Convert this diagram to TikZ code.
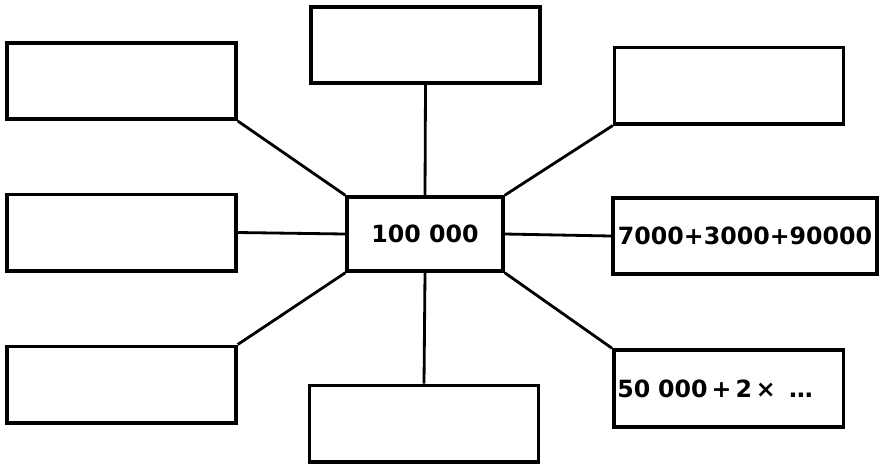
\documentclass[tikz,border=0pt]{standalone}
\usepackage{fontspec}
\setmainfont{DejaVu Sans}
\tikzset{
  box/.style={draw, line width=2pt, minimum width=4.58cm, minimum height=1.53cm},
  numbox/.style={box, font=\bfseries\fontsize{13.5}{16}\selectfont},
  spoke/.style={line width=1.6pt}
}
\begin{document}
\begin{tikzpicture}[x=0.02cm, y=-0.02cm]
    \useasboundingbox (0,0) rectangle (888,468);
    % centre
    \node[numbox, minimum width=3.12cm, minimum height=1.48cm] (c) at (425,234) {100 000};
    % outer boxes
    \node[box] (tl) at (121.5,81) {};
    \node[box] (tc) at (425.5,45) {};
    \node[box] (tr) at (729,85.5) {};
    \node[box] (ml) at (121.5,232.5) {};
    \node[numbox, inner xsep=1pt, minimum width=5.28cm, minimum height=1.52cm] (mr) at (745,236) {7000+3000+90000};
    \node[box] (bl) at (121.5,384.5) {};
    \node[box] (bc) at (424,423.5) {};
    \node[numbox, inner xsep=2pt, text width=4.45cm, align=left, minimum height=1.54cm] (br) at (728.5,388.5) {50 000\,+\,2\,×\;\;…};
    % spokes
    \draw[spoke] (tl.south east) -- (c.north west);
    \draw[spoke] (tc.south) -- (c.north);
    \draw[spoke] (tr.south west) -- (c.north east);
    \draw[spoke] (ml.east) -- (c.west);
    \draw[spoke] (c.east) -- (mr.west);
    \draw[spoke] (bl.north east) -- (c.south west);
    \draw[spoke] (bc.north) -- (c.south);
    \draw[spoke] (br.north west) -- (c.south east);
\end{tikzpicture}
\end{document}
